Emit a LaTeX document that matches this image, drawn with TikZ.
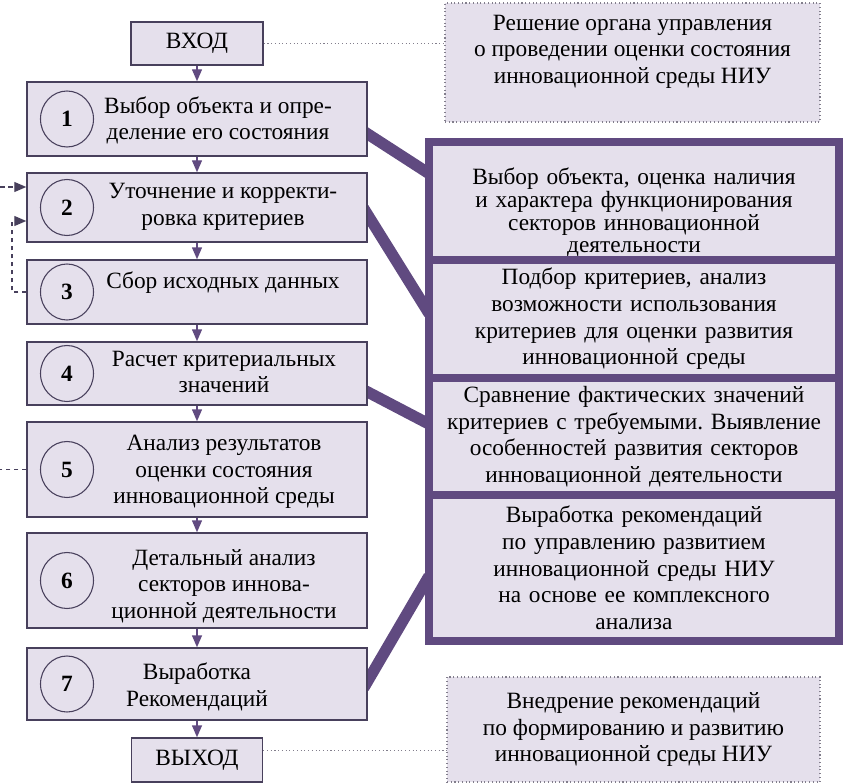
\documentclass[tikz,border=0pt]{standalone}
\usepackage{fontspec}
\setmainfont{Liberation Serif}
\usetikzlibrary{arrows.meta,shapes.geometric,backgrounds}
\frenchspacing

\definecolor{lilac}{RGB}{229,224,236}
\definecolor{plum}{RGB}{96,74,128}
\definecolor{edgegray}{RGB}{72,64,92}
\definecolor{dotgray}{RGB}{130,126,140}

\tikzset{
  stepbox/.style={draw=edgegray, line width=1.1pt, fill=lilac, inner sep=0pt},
  numbox/.style={ellipse, draw=edgegray, line width=0.8pt, inner sep=0pt,
    minimum width=39.75pt, minimum height=42pt,
    font=\fontsize{17.5pt}{20pt}\selectfont\bfseries},
  steptext/.style={align=center, inner sep=0pt},
  infobox/.style={draw=plum, line width=6pt, fill=lilac, inner sep=0pt,
    minimum width=307.5pt, align=center, text width=300pt},
  notebox/.style={draw=dotgray, line width=0.8pt, dotted, fill=lilac,
    inner sep=0pt, align=center},
  flow/.style={draw=plum, line width=1.1pt, -{Triangle[length=9pt,width=7.5pt]}},
  backflow/.style={draw=edgegray, line width=0.9pt, dash pattern=on 3.5pt off 2.5pt},
  notelink/.style={draw=dotgray, line width=0.8pt, dotted},
  link/.style={draw=plum, line width=8.5pt, shorten <=-6pt, shorten >=-6pt}
}

\begin{document}
\begin{tikzpicture}[x=0.75pt,y=0.75pt,yscale=-1,xscale=1,
  font=\fontsize{17.5pt}{20pt}\selectfont]
\useasboundingbox (0,0) rectangle (845,784);

% left column
\node[stepbox, minimum width=99pt, minimum height=32.25pt] (in) at (197,43.5) {ВХОД};
\node[stepbox, minimum width=255pt, minimum height=55.5pt] (b1) at (197,119) {};
\node[stepbox, minimum width=255pt, minimum height=51.75pt] (b2) at (197,207.5) {};
\node[stepbox, minimum width=255pt, minimum height=48pt] (b3) at (197,292) {};
\node[stepbox, minimum width=255pt, minimum height=47.25pt] (b4) at (197,373.5) {};
\node[stepbox, minimum width=255pt, minimum height=71.25pt] (b5) at (197,469.5) {};
\node[stepbox, minimum width=255pt, minimum height=71.25pt] (b6) at (197,580.5) {};
\node[stepbox, minimum width=255pt, minimum height=54pt] (b7) at (197,684) {};
\node[stepbox, minimum width=98.25pt, minimum height=33pt] (out) at (197,760) {ВЫХОД};

\foreach \i/\y in {1/119,2/207.5,3/292,4/373.5,5/469.5,6/580.5,7/684}
  \node[numbox] (n\i) at (67,\y) {\i};

\node[steptext] (t1) at (218,120.5) {Выбор объекта и опре-\\деление его состояния};
\node[steptext] (t2) at (223,207) {Уточнение и корректи-\\ровка критериев};
\node[steptext] (t3) at (223,283) {Сбор исходных данных};
\node[steptext] (t4) at (224,372) {Расчет критериальных\\значений};
\node[steptext] (t5) at (224,472) {Анализ результатов\\оценки состояния\\инновационной среды};
\node[steptext] (t6) at (224,586) {Детальный анализ\\секторов иннова-\\ционной деятельности};
\node[steptext] (t7) at (197,687) {Выработка\\Рекомендаций};

\foreach \a/\b in {in/b1,b1/b2,b2/b3,b3/b4,b4/b5,b5/b6,b6/b7,b7/out}
  \draw[flow] (\a) -- (\b);

% feedback
\coordinate (fin) at (0,187);
\coordinate (turn) at (12,221);
\coordinate (fout) at (0,469.5);
\draw[backflow, -{Triangle[length=9pt,width=7.5pt]}] (fin) -- (fin -| b2.west);
\draw[backflow, -{Triangle[length=9pt,width=7.5pt]}] (b3.west) -| (turn) -- (turn -| b2.west);
\draw[backflow] (b5.west) -- (fout);

% right column
\node[infobox, minimum height=88.5pt, font=\fontsize{17.5pt}{17pt}\selectfont] (r1) at (634,201)
  {\rule{0pt}{30pt}Выбор объекта, оценка наличия\\и характера функционирования\\секторов инновационной\\деятельности};
\node[infobox, minimum height=88.5pt] (r2) at (634,319)
  {Подбор критериев, анализ\\возможности использования\\критериев для оценки развития\\инновационной среды};
\node[infobox, minimum height=87.75pt] (r3) at (634,436.5)
  {Сравнение фактических значений\\критериев с требуемыми. Выявление\\особенностей развития секторов\\инновационной деятельности};
\node[infobox, minimum height=109.5pt] (r4) at (634,568)
  {Выработка рекомендаций\\по управлению развитием\\инновационной среды НИУ\\на основе ее комплексного\\анализа};

\node[notebox, minimum width=281.25pt, minimum height=89.25pt] (topnote) at (632.5,62.5)
  {Решение органа управления\\о проведении оценки состояния\\инновационной среды НИУ\\\mbox{}};
\node[notebox, minimum width=279.75pt, minimum height=78.75pt] (botnote) at (633.5,729.5)
  {Внедрение рекомендаций\\по формированию и развитию\\инновационной среды НИУ};

\draw[notelink] (in.east) -- (in.east -| topnote.west);
\draw[notelink] ([yshift=-7pt]out.east) -- ([yshift=-7pt]out.east -| botnote.west);

\begin{pgfonlayer}{background}
\draw[link] ([yshift=11.25pt]b1.east) -- ([yshift=-22.5pt]r1.west);
\draw[link] ([yshift=5.6pt]b2.east) -- ([yshift=-9pt]r2.west);
\draw[link] ([yshift=13.9pt]b4.east) -- ([yshift=-10.9pt]r3.west);
\draw[link] ([yshift=-2.25pt]b7.east) -- ([yshift=11.25pt]r4.west);
\end{pgfonlayer}
\end{tikzpicture}
\end{document}
